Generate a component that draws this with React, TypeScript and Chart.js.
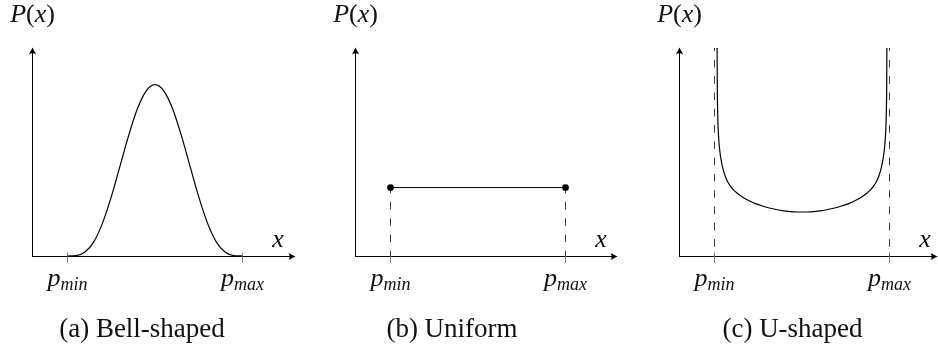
import React, { useEffect, useRef } from "react";
import { Chart, registerables } from "chart.js";

Chart.register(...registerables);

// Bell-shaped density between p_min (x = 0) and p_max (x = 1)
const bellX = [0, 0.05, 0.1, 0.15, 0.2, 0.25, 0.3, 0.35, 0.4, 0.45, 0.5, 0.55, 0.6, 0.65, 0.7, 0.75, 0.8, 0.85, 0.9, 0.95, 1];
const bellP = [0, 0.002, 0.019, 0.068, 0.158, 0.284, 0.432, 0.581, 0.709, 0.794, 0.824, 0.794, 0.709, 0.581, 0.432, 0.284, 0.158, 0.068, 0.019, 0.002, 0];

// Uniform density: constant level between the two bounds
const uniformX = [0, 1];
const uniformP = [0.329, 0.329];

// U-shaped density, diverging towards both bounds
const uShapeX = [0.015, 0.016, 0.019, 0.024, 0.031, 0.04, 0.05, 0.062, 0.076, 0.092, 0.11, 0.13, 0.155, 0.187, 0.23, 0.282, 0.34, 0.396, 0.45, 0.5, 0.55, 0.604, 0.66, 0.718, 0.77, 0.813, 0.845, 0.87, 0.89, 0.908, 0.924, 0.938, 0.95, 0.96, 0.969, 0.976, 0.981, 0.984, 0.985];
const uShapeP = [1.0, 0.82, 0.66, 0.565, 0.5, 0.452, 0.414, 0.382, 0.356, 0.335, 0.317, 0.302, 0.286, 0.27, 0.253, 0.238, 0.226, 0.217, 0.2125, 0.2115, 0.2125, 0.217, 0.226, 0.238, 0.253, 0.27, 0.286, 0.302, 0.317, 0.335, 0.356, 0.382, 0.414, 0.452, 0.5, 0.565, 0.66, 0.82, 1.0];

// Bounds marked on the x axis and their subscripts
const boundX = [0, 1];
const boundSubs = ["min", "max"];

const captions = ["(a) Bell-shaped", "(b) Uniform", "(c) U-shaped"];

// Axis range (in value units)
const xMin = -0.2;
const xMax = 1;
const yMin = 0;
const yMax = 1;

type Kind = "bell" | "uniform" | "ushape";

interface PanelSpec {
  left: number;
  captionX: number;
  tipX: number;
  kind: Kind;
  dashOffset: number;
}

const CANVAS_W = 300;
const CANVAS_H = 351;

const PANELS: PanelSpec[] = [
  { left: 0, captionX: 142, tipX: 295, kind: "bell", dashOffset: 0 },
  { left: 323, captionX: 129, tipX: 294, kind: "uniform", dashOffset: 2 },
  { left: 647, captionX: 145.5, tipX: 290, kind: "ushape", dashOffset: 4.5 },
];

const FAMILY = '"Liberation Serif", "DejaVu Serif", serif';
const MATH = `italic 26px ${FAMILY}`;
const UPRIGHT = `26px ${FAMILY}`;
const SUB = `italic 18px ${FAMILY}`;
const CAPTION = `27px ${FAMILY}`;

type Run = { text: string; font: string; dy?: number };

function drawRuns(ctx: CanvasRenderingContext2D, runs: Run[], cx: number, baseline: number) {
  const widths = runs.map((r) => {
    ctx.font = r.font;
    return ctx.measureText(r.text).width;
  });
  const total = widths.reduce((a, b) => a + b, 0);
  let x = cx - total / 2;
  ctx.textAlign = "left";
  ctx.textBaseline = "alphabetic";
  runs.forEach((r, i) => {
    ctx.font = r.font;
    ctx.fillText(r.text, x, baseline + (r.dy || 0));
    x += widths[i];
  });
}

function arrowHead(ctx: CanvasRenderingContext2D, tx: number, ty: number, up: boolean) {
  ctx.save();
  ctx.translate(tx, ty);
  if (up) ctx.rotate(-Math.PI / 2);
  ctx.beginPath();
  ctx.moveTo(0.5, 0);
  ctx.lineTo(-6.5, -3.6);
  ctx.quadraticCurveTo(-4.2, 0, -6.5, 3.6);
  ctx.closePath();
  ctx.fill();
  ctx.restore();
}

function axesPlugin(spec: PanelSpec, caption: string) {
  return {
    id: "pdfAxes",
    beforeDatasetsDraw(chart: Chart) {
      const { ctx, chartArea, scales } = chart;
      const sx = scales.x;
      const sy = scales.y;
      const x0 = Math.floor(chartArea.left) + 0.5;
      const y0 = Math.floor(sy.getPixelForValue(yMin)) + 0.5;
      const yTop = sy.getPixelForValue(yMax);
      ctx.save();
      ctx.strokeStyle = "#000";
      ctx.fillStyle = "#000";
      ctx.lineWidth = 1;
      ctx.beginPath();
      ctx.moveTo(x0, y0);
      ctx.lineTo(x0, yTop + 2);
      ctx.moveTo(x0 - 0.5, y0);
      ctx.lineTo(spec.tipX - 2, y0);
      ctx.stroke();
      arrowHead(ctx, x0, yTop, true);
      arrowHead(ctx, spec.tipX, y0, false);
      // bound ticks
      ctx.strokeStyle = "#7a7a7a";
      boundX.forEach((v) => {
        const px = Math.floor(sx.getPixelForValue(v)) + 0.5;
        ctx.beginPath();
        ctx.moveTo(px, y0 - 4);
        ctx.lineTo(px, y0 + 6);
        ctx.stroke();
      });
      ctx.restore();
    },
    afterDraw(chart: Chart) {
      const { ctx, chartArea, scales } = chart;
      const sx = scales.x;
      ctx.save();
      ctx.fillStyle = "#111";
      drawRuns(
        ctx,
        [
          { text: "P", font: MATH },
          { text: "(", font: UPRIGHT },
          { text: "x", font: MATH },
          { text: ")", font: UPRIGHT },
        ],
        chartArea.left,
        22
      );
      drawRuns(ctx, [{ text: "x", font: MATH }], sx.getPixelForValue(boundX[1]) + 35.5, 247);
      boundX.forEach((v, i) => {
        drawRuns(
          ctx,
          [
            { text: "p", font: MATH },
            { text: boundSubs[i], font: SUB, dy: 4 },
          ],
          sx.getPixelForValue(v),
          286
        );
      });
      drawRuns(ctx, [{ text: caption, font: CAPTION }], spec.captionX, 337);
      ctx.restore();
    },
  };
}

const pts = (xs: number[], ys: number[]) => xs.map((x, i) => ({ x, y: ys[i] }));

function datasetsFor(spec: PanelSpec) {
  const curve = {
    showLine: true,
    borderColor: "#000",
    borderWidth: 1.2,
    pointRadius: 0,
    cubicInterpolationMode: "monotone" as const,
    fill: false,
    clip: false,
  };
  const guide = (x: number, top: number) => ({
    data: [
      { x, y: top },
      { x, y: yMin },
    ],
    showLine: true,
    borderColor: "#3c3c3c",
    borderWidth: 1,
    borderDash: [7.7, 8.6],
    borderDashOffset: spec.dashOffset,
    pointRadius: 0,
    fill: false,
    clip: false,
  });
  if (spec.kind === "bell") {
    return [{ data: pts(bellX, bellP), ...curve }];
  }
  if (spec.kind === "uniform") {
    return [
      {
        data: pts(uniformX, uniformP),
        showLine: true,
        borderColor: "#000",
        borderWidth: 1,
        pointRadius: 3.4,
        pointBackgroundColor: "#000",
        pointBorderWidth: 0,
        fill: false,
        clip: false,
      },
      guide(uniformX[0], uniformP[0]),
      guide(uniformX[1], uniformP[1]),
    ];
  }
  return [{ data: pts(uShapeX, uShapeP), ...curve }, guide(boundX[0], yMax), guide(boundX[1], yMax)];
}

function Panel({ spec, caption }: { spec: PanelSpec; caption: string }) {
  const ref = useRef<HTMLCanvasElement>(null);
  useEffect(() => {
    if (!ref.current) return;
    const chart = new Chart(ref.current, {
      type: "scatter",
      data: { datasets: datasetsFor(spec) as any },
      options: {
        animation: false,
        responsive: false,
        maintainAspectRatio: false,
        devicePixelRatio: 1,
        layout: { padding: { left: 32.5, right: CANVAS_W - 242.5, top: 48, bottom: CANVAS_H - 256 } },
        scales: {
          x: { type: "linear", min: xMin, max: xMax, display: false },
          y: { type: "linear", min: yMin, max: yMax, display: false },
        },
        plugins: {
          legend: { display: false },
          tooltip: { enabled: false },
        },
        events: [],
      },
      plugins: [axesPlugin(spec, caption) as any],
    });
    return () => chart.destroy();
  }, [spec, caption]);
  return (
    <canvas
      ref={ref}
      width={CANVAS_W}
      height={CANVAS_H}
      style={{ position: "absolute", left: spec.left, top: 0, width: CANVAS_W, height: CANVAS_H }}
    />
  );
}

export default function App() {
  return (
    <div
      style={{
        position: "absolute",
        left: 0,
        top: 0,
        width: 938,
        height: 351,
        overflow: "hidden",
        background: "#fff",
      }}
    >
      {PANELS.map((p, i) => (
        <Panel key={i} spec={p} caption={captions[i]} />
      ))}
    </div>
  );
}
